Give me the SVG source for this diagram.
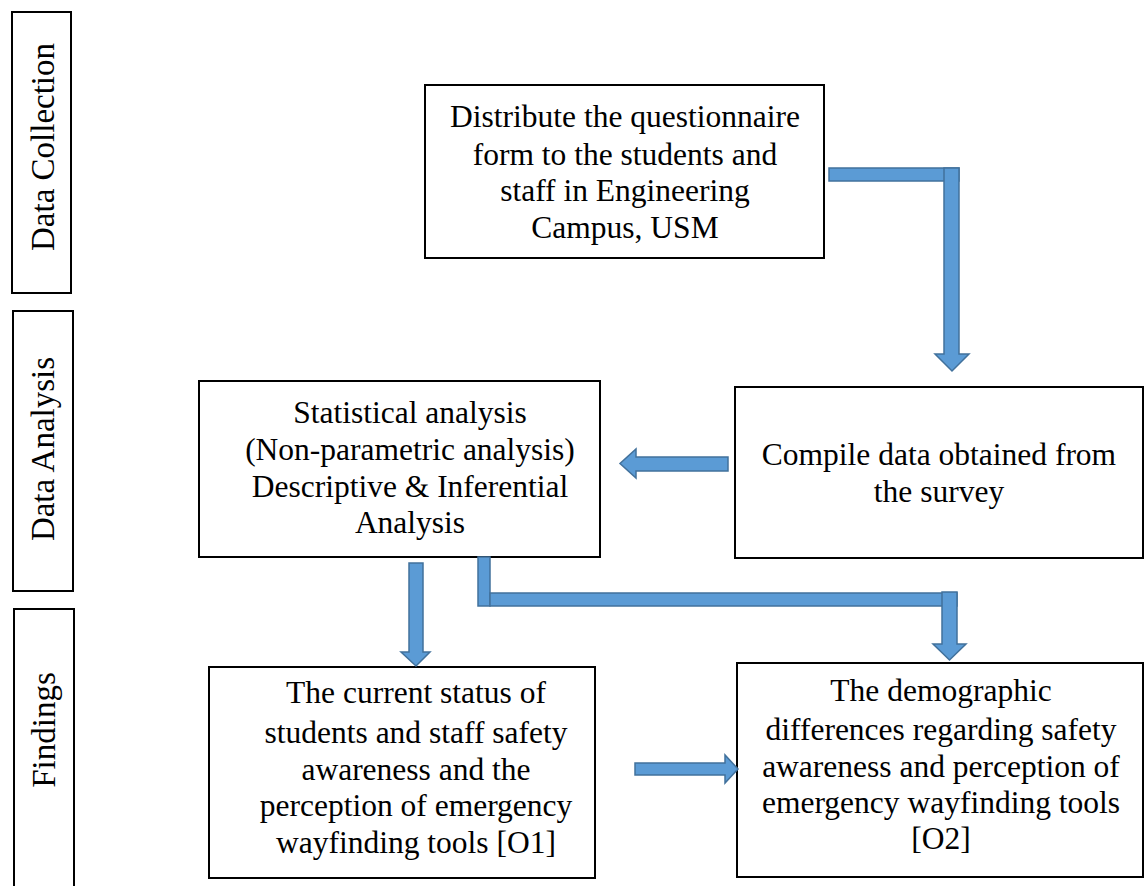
<svg xmlns="http://www.w3.org/2000/svg" width="1148" height="886" viewBox="0 0 1148 886">
<style>
.box{fill:#fff;stroke:#000;stroke-width:2}
.t{font-family:"Liberation Serif","Times New Roman",serif;font-size:31.5px;fill:#000;text-anchor:middle}
.s{font-family:"Liberation Serif","Times New Roman",serif;font-size:33px;fill:#000;text-anchor:middle}
.ar{fill:#5B9BD5;stroke:#41719C;stroke-width:1.5;stroke-linejoin:miter}
</style>
<rect width="1148" height="886" fill="#fff"/>
<g id="stage-collection">
<rect class="box" x="12" y="12" width="59" height="281"/>
<text class="s" transform="translate(54,147) rotate(-90)">Data Collection</text>
</g>
<g id="stage-analysis">
<rect class="box" x="13" y="311" width="60" height="280"/>
<text class="s" transform="translate(54,449) rotate(-90)">Data Analysis</text>
</g>
<g id="stage-findings">
<rect class="box" x="14" y="609" width="60" height="290"/>
<text class="s" transform="translate(55,730) rotate(-90)">Findings</text>
</g>
<g id="distribute">
<rect class="box" x="425" y="85" width="399" height="173"/>
<text class="t" x="625" y="127">Distribute the questionnaire</text>
<text class="t" x="625" y="165">form to the students and</text>
<text class="t" x="625" y="201">staff in Engineering</text>
<text class="t" x="625" y="238">Campus, USM</text>
</g>
<g id="compile">
<rect class="box" x="735" y="387" width="408" height="171"/>
<text class="t" x="939" y="465">Compile data obtained from</text>
<text class="t" x="939" y="502">the survey</text>
</g>
<g id="statistical">
<rect class="box" x="199" y="381" width="401" height="176"/>
<text class="t" x="410" y="423">Statistical analysis</text>
<text class="t" x="410" y="460">(Non-parametric analysis)</text>
<text class="t" x="410" y="497">Descriptive &amp; Inferential</text>
<text class="t" x="410" y="533">Analysis</text>
</g>
<g id="current-status">
<rect class="box" x="209" y="667" width="386" height="211"/>
<text class="t" x="416" y="703">The current status of</text>
<text class="t" x="416" y="743">students and staff safety</text>
<text class="t" x="416" y="780">awareness and the</text>
<text class="t" x="416" y="816">perception of emergency</text>
<text class="t" x="416" y="853">wayfinding tools [O1]</text>
</g>
<g id="demographic">
<rect class="box" x="737" y="663" width="406" height="214"/>
<text class="t" x="941" y="701">The demographic</text>
<text class="t" x="941" y="740">differences regarding safety</text>
<text class="t" x="941" y="777">awareness and perception of</text>
<text class="t" x="941" y="813">emergency wayfinding tools</text>
<text class="t" x="941" y="849">[O2]</text>
</g>
<g id="connectors">
<rect class="ar" x="829" y="168" width="130" height="13"/>
<polygon class="ar" points="944,168 959,168 959,354 969,354 952,371 935,354 944,354"/>
<polygon class="ar" points="728,457 728,471 636,471 636,478 620,463.5 636,449 636,457"/>
<polygon class="ar" points="409,563 423,563 423,652 430,652 416,666 401,652 409,652"/>
<rect class="ar" x="478" y="557" width="12" height="49"/>
<rect class="ar" x="490" y="593" width="467" height="13"/>
<polygon class="ar" points="942,592 957,592 957,644 966,644 949.5,660 933,644 942,644"/>
<polygon class="ar" points="635,763 725,763 725,755 738,769 725,783 725,775 635,775"/>
</g>
</svg>
